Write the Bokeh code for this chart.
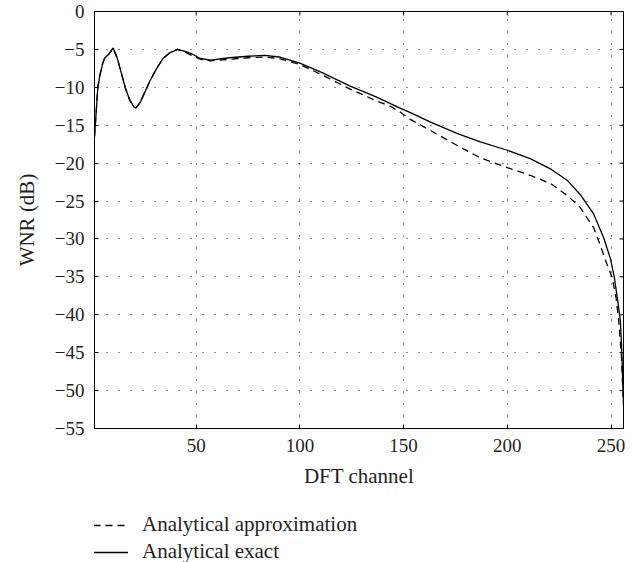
import math
from bokeh.plotting import figure
from bokeh.layouts import column
from bokeh.models import Range1d, FixedTicker, Legend, LegendItem
from bokeh.embed import file_html
from bokeh.resources import INLINE

# ---- data ----
channel_exact = [1, 2, 2.6, 3.6, 5, 6, 8, 10, 12, 14, 16, 18, 20, 21, 23, 25, 28, 31, 34, 37, 41,
                 45, 48, 52, 57, 66, 75, 83, 90, 100, 111, 124, 137, 148, 153, 163, 176, 187,
                 200, 211, 221, 229, 235, 241.6, 246.4, 249.7, 251.6, 253.2, 254.5, 255.2,
                 255.8, 256]
wnr_exact = [-16.5, -12.5, -10.0, -8.4, -6.8, -6.1, -5.6, -4.8, -6.2, -8.2, -10.2, -11.7, -12.6,
             -12.7, -12.0, -10.8, -9.0, -7.5, -6.2, -5.5, -5.0,
             -5.3, -5.6, -6.2, -6.4, -6.1, -5.9, -5.8, -6.0, -6.8, -8.1, -9.8, -11.3, -12.7,
             -13.3, -14.6, -16.1, -17.2, -18.3, -19.4, -20.8, -22.3, -24.1, -26.7, -29.8,
             -32.6, -35.1, -38.1, -40.8, -45.0, -50.4, -51.5]

channel_approx = [1, 2, 2.6, 3.6, 5, 6, 8, 10, 12, 14, 16, 18, 20, 21, 23, 25, 28, 31, 34, 37, 41,
                  45, 48, 52, 57, 66, 75, 83, 90, 100, 111, 124, 137, 143.6, 148.5, 153, 163,
                  176, 187, 200, 211, 221, 229, 235, 241.6, 244.9, 247.3, 250.5, 252.4, 253.7,
                  255, 256]
wnr_approx = [-16.5, -12.5, -10.0, -8.4, -6.8, -6.1, -5.6, -4.8, -6.2, -8.2, -10.2, -11.7, -12.6,
              -12.7, -12.0, -10.8, -9.0, -7.5, -6.2, -5.5, -5.0,
              -5.4, -5.8, -6.3, -6.5, -6.3, -6.1, -6.0, -6.2, -7.0, -8.4, -10.2, -11.8, -12.5,
              -13.3, -14.2, -15.7, -17.7, -19.3, -20.6, -21.6, -22.7, -24.3, -25.8, -28.5,
              -30.9, -32.8, -35.1, -37.7, -40.8, -45.5, -52.0]

x_ticks = [50, 100, 150, 200, 250]
y_ticks = [0, -5, -10, -15, -20, -25, -30, -35, -40, -45, -50, -55]

x_label = "DFT channel"
y_label = "WNR (dB)"
legend_labels = ["Analytical approximation", "Analytical exact"]

X_MIN, X_MAX = 1, 256
Y_MIN, Y_MAX = -55, 0

FONT = "Liberation Serif"
TXT = "#231f20"
DASH = "7 5"
LW = 1.3

p = figure(width=639, height=505, output_backend="svg", toolbar_location=None,
           x_range=Range1d(X_MIN, X_MAX), y_range=Range1d(Y_MIN, Y_MAX),
           min_border_left=94, min_border_right=16, min_border_top=11, min_border_bottom=77)
p.background_fill_color = "white"
p.border_fill_color = "white"
p.outline_line_color = "black"
p.outline_line_width = 1

xt = FixedTicker(ticks=x_ticks)
yt = FixedTicker(ticks=y_ticks)
ylabels = {t: ("0" if t == 0 else "\u2212" + str(abs(t))) for t in y_ticks}

p.xaxis.ticker = xt
p.yaxis.ticker = yt
p.yaxis.major_label_overrides = ylabels

for ax in [p.xaxis[0], p.yaxis[0]]:
    ax.axis_line_color = "black"
    ax.major_tick_in = 4
    ax.major_tick_out = 0
    ax.minor_tick_in = 0
    ax.minor_tick_out = 0
    ax.major_tick_line_color = "black"
    ax.major_label_text_font = FONT
    ax.major_label_text_font_size = "19px"
    ax.major_label_text_color = TXT
    ax.axis_label_text_font = FONT
    ax.axis_label_text_font_size = "21px"
    ax.axis_label_text_font_style = "normal"
    ax.axis_label_text_color = TXT

p.xaxis.axis_label = x_label
p.yaxis.axis_label = y_label
p.xaxis.major_label_standoff = 10
p.xaxis.axis_label_standoff = 9
p.yaxis.major_label_standoff = 10
p.yaxis.axis_label_standoff = 13

for g in [p.xgrid[0], p.ygrid[0]]:
    g.grid_line_color = "black"
    g.grid_line_width = 1
    g.grid_line_dash = "1 11"
    g.grid_line_alpha = 0.9
p.xgrid.ticker = xt
p.ygrid.ticker = yt

# inward tick marks on the top and right edges of the box
p.ray(x=x_ticks, y=[Y_MAX] * len(x_ticks), length=4, length_units="screen",
      angle=-math.pi / 2, line_color="black", line_width=1)
p.ray(x=[X_MAX] * len(y_ticks), y=y_ticks, length=4, length_units="screen",
      angle=math.pi, line_color="black", line_width=1)

p.line(channel_approx, wnr_approx, line_color="black", line_width=LW, line_dash=DASH)
p.line(channel_exact, wnr_exact, line_color="black", line_width=LW)

# ---- legend strip below the chart (series lie outside this strip's visible range) ----
lg = figure(width=639, height=57, output_backend="svg", toolbar_location=None,
            x_axis_type=None, y_axis_type=None, x_range=Range1d(0, 1), y_range=Range1d(0, 1),
            min_border_left=0, min_border_right=0, min_border_top=0, min_border_bottom=0)
lg.outline_line_color = None
lg.xgrid.visible = False
lg.ygrid.visible = False
la = lg.line(channel_approx, wnr_approx, line_color="black", line_width=LW, line_dash=DASH)
le = lg.line(channel_exact, wnr_exact, line_color="black", line_width=LW)
legend = Legend(items=[LegendItem(label=legend_labels[0], renderers=[la]),
                       LegendItem(label=legend_labels[1], renderers=[le])],
                location=(-1, -2), orientation="vertical",
                label_text_font=FONT, label_text_font_size="21px", label_text_color=TXT,
                glyph_width=35, glyph_height=20, label_height=20, label_standoff=14,
                spacing=2, padding=0, margin=0, border_line_color=None,
                background_fill_alpha=0)
lg.add_layout(legend, "center")

layout = column(p, lg, spacing=0)
open("out.html", "w").write(file_html(layout, INLINE))
